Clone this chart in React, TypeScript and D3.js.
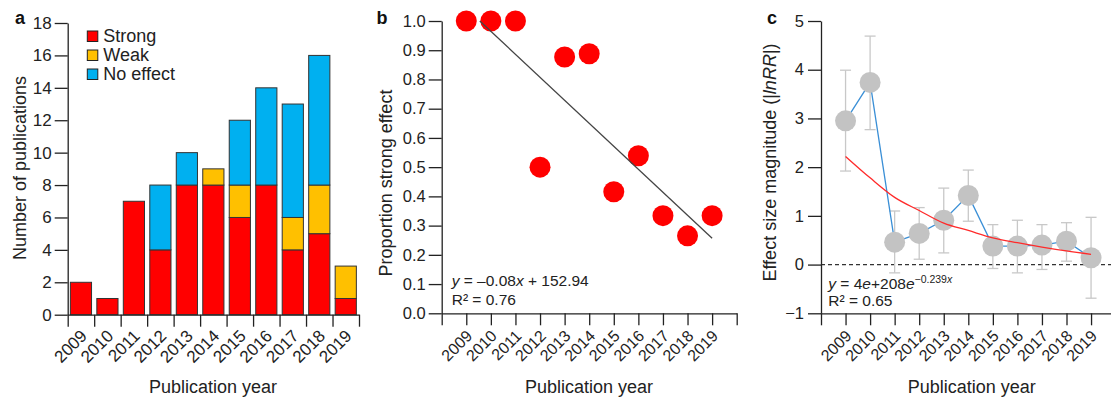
import React, { useEffect, useRef } from "react";
import * as d3 from "d3";

// publication years shared by all three panels
const years = [2009, 2010, 2011, 2012, 2013, 2014, 2015, 2016, 2017, 2018, 2019];

// panel a: counts of publications by effect category
const strong = [2, 1, 7, 4, 8, 8, 6, 8, 4, 5, 1];
const weak = [0, 0, 0, 0, 0, 1, 2, 0, 2, 3, 2];
const noEffect = [0, 0, 0, 4, 2, 0, 4, 6, 7, 8, 0];
const seriesNames = ["Strong", "Weak", "No effect"];
const seriesColors = ["#ff0000", "#ffc000", "#00b0f0"];
const countTicks = [0, 2, 4, 6, 8, 10, 12, 14, 16, 18];

// panel b: proportion strong effect + linear fit end points
const propStrong = [1.0, 1.0, 1.0, 0.5, 0.877, 0.888, 0.416, 0.539, 0.334, 0.265, 0.334];
const linFitYears = [2009.55, 2019];
const linFitValues = [1.0, 0.257];
const propTicks = [0, 0.1, 0.2, 0.3, 0.4, 0.5, 0.6, 0.7, 0.8, 0.9, 1.0];

// panel c: effect size magnitude with error bars + exponential fit
const effectMean = [2.95, 3.74, 0.46, 0.64, 0.91, 1.42, 0.38, 0.38, 0.4, 0.48, 0.14];
const effectLower = [1.92, 2.77, -0.17, 0.11, 0.24, 0.89, -0.08, -0.17, -0.1, 0.07, -0.69];
const effectUpper = [3.99, 4.69, 1.1, 1.17, 1.57, 1.94, 0.82, 0.91, 0.82, 0.86, 0.97];
const expFit = [2.22, 1.78, 1.38, 1.11, 0.85, 0.7, 0.55, 0.45, 0.36, 0.28, 0.21];
const effectTicks = [-1, 0, 1, 2, 3, 4, 5];

const FONT = '"Liberation Sans", Arial, Helvetica, sans-serif';
const INK = "#222";

function styleAxis(g: any, fontSize: number) {
  g.attr("font-family", FONT).attr("font-size", fontSize);
  g.select(".domain").attr("stroke", INK).attr("stroke-width", 1.3);
  g.selectAll(".tick line").attr("stroke", INK).attr("stroke-width", 1.3);
  g.selectAll(".tick text").attr("fill", INK);
}

function yearLabels(svg: any, xs: (d: number) => number, y: number, size: number) {
  svg
    .append("g")
    .attr("font-size", size)
    .attr("fill", INK)
    .selectAll("text")
    .data(years)
    .join("text")
    .attr("text-anchor", "end")
    .attr("transform", (d: number) => `translate(${xs(d) + 7},${y}) rotate(-45)`)
    .text((d: number) => d);
}

function titles(svg: any, label: string, lx: number, xTitle: string, xCenter: number, yTitle: any, yx: number, yCenter: number) {
  svg
    .append("text")
    .attr("x", lx)
    .attr("y", 24)
    .attr("font-weight", "bold")
    .attr("font-size", 18)
    .attr("fill", "#111")
    .text(label);
  svg
    .append("text")
    .attr("x", xCenter)
    .attr("y", 393)
    .attr("text-anchor", "middle")
    .attr("font-size", 18)
    .attr("fill", INK)
    .text(xTitle);
  const t = svg
    .append("text")
    .attr("transform", `translate(${yx},${yCenter}) rotate(-90)`)
    .attr("text-anchor", "middle")
    .attr("font-size", 18)
    .attr("fill", INK);
  yTitle(t);
}

export default function App() {
  const ref = useRef<SVGSVGElement>(null);

  useEffect(() => {
    const svg = d3.select(ref.current).attr("font-family", FONT);
    svg.selectAll("*").remove();

    // ---------- panel a ----------
    const xa = d3.scaleLinear().domain([2008.5, 2019.5]).range([67.7, 359]);
    const band = d3
      .scaleBand<number>()
      .domain(years)
      .range([67.7, 359])
      .paddingInner(0.2)
      .paddingOuter(0.1);
    const ya = d3.scaleLinear().domain([0, 18]).range([314.7, 23]);

    const rows = years.map((yr, i) => ({
      year: yr,
      Strong: strong[i],
      Weak: weak[i],
      "No effect": noEffect[i],
    }));
    const stacked = d3.stack<any>().keys(seriesNames)(rows);

    svg
      .append("g")
      .selectAll("g")
      .data(stacked)
      .join("g")
      .attr("fill", (_, i) => seriesColors[i])
      .selectAll("rect")
      .data((d) => d.filter((p) => p[1] > p[0]))
      .join("rect")
      .attr("x", (d: any) => band(d.data.year)!)
      .attr("width", band.bandwidth())
      .attr("y", (d) => ya(d[1]))
      .attr("height", (d) => ya(d[0]) - ya(d[1]))
      .attr("stroke", "#333")
      .attr("stroke-width", 1);

    const ayA = svg
      .append("g")
      .attr("transform", `translate(${xa.range()[0]},0)`)
      .call(d3.axisLeft(ya).tickValues(countTicks).tickSize(13).tickPadding(3).tickSizeOuter(0));
    styleAxis(ayA, 17);

    const axA = svg
      .append("g")
      .attr("transform", `translate(0,${ya(0)})`)
      .call(
        d3
          .axisBottom(xa)
          .tickValues(d3.range(2008.5, 2020, 1))
          .tickFormat(() => "")
          .tickSize(12)
          .tickSizeOuter(0)
      );
    styleAxis(axA, 17);
    yearLabels(svg, (d) => band(d)! + band.bandwidth() / 2, 337, 17);

    // legend
    const legend = svg
      .append("g")
      .selectAll("g")
      .data(seriesNames)
      .join("g")
      .attr("transform", (_, i) => `translate(87.3,${31 + i * 19})`);
    legend
      .append("rect")
      .attr("width", 10.5)
      .attr("height", 10.5)
      .attr("fill", (_, i) => seriesColors[i])
      .attr("stroke", "#222")
      .attr("stroke-width", 1);
    legend
      .append("text")
      .attr("x", 16)
      .attr("y", 11)
      .attr("font-size", 18)
      .attr("fill", INK)
      .text((d) => d);

    titles(svg, "a", 15, "Publication year", 213, (t: any) => t.text("Number of publications"), 26, 168);

    // ---------- panel b ----------
    const xb = d3.scaleLinear().domain([2008, 2020]).range([441.7, 736.7]);
    const yb = d3.scaleLinear().domain([0, 1]).range([313.3, 21]);

    svg
      .append("g")
      .selectAll("circle")
      .data(years)
      .join("circle")
      .attr("cx", (d) => xb(d))
      .attr("cy", (_, i) => yb(propStrong[i]))
      .attr("r", 10.5)
      .attr("fill", "#ff0000");

    svg
      .append("path")
      .datum(linFitYears.map((yr, i) => [yr, linFitValues[i]] as [number, number]))
      .attr("fill", "none")
      .attr("stroke", "#444")
      .attr("stroke-width", 1.3)
      .attr(
        "d",
        d3
          .line<[number, number]>()
          .x((d) => xb(d[0]))
          .y((d) => yb(d[1]))
      );

    const ayB = svg
      .append("g")
      .attr("transform", `translate(${xb.range()[0]},0)`)
      .call(
        d3
          .axisLeft(yb)
          .tickValues(propTicks)
          .tickFormat(d3.format(".1f"))
          .tickSize(13)
          .tickPadding(3)
          .tickSizeOuter(0)
      );
    styleAxis(ayB, 16.5);

    const axB = svg
      .append("g")
      .attr("transform", `translate(0,${yb(0)})`)
      .call(
        d3
          .axisBottom(xb)
          .tickValues(d3.range(2008, 2021))
          .tickFormat(() => "")
          .tickSize(12)
          .tickSizeOuter(0)
      );
    styleAxis(axB, 16);
    yearLabels(svg, xb, 337, 16);

    const eqB = svg.append("g").attr("font-size", 15.5).attr("fill", INK);
    const e1 = eqB.append("text").attr("x", 451.7).attr("y", 286);
    e1.append("tspan").attr("font-style", "italic").text("y");
    e1.append("tspan").text(" = \u20130.08");
    e1.append("tspan").attr("font-style", "italic").text("x");
    e1.append("tspan").text(" + 152.94");
    eqB.append("text").attr("x", 451.7).attr("y", 305).text("R\u00b2 = 0.76");

    titles(svg, "b", 376.5, "Publication year", 589, (t: any) => t.text("Proportion strong effect"), 392, 183);

    // ---------- panel c ----------
    const xc = d3.scaleLinear().domain([2008, 2020]).range([821, 1115.6]);
    const yc = d3.scaleLinear().domain([-1, 5]).range([313.3, 21]);

    svg
      .append("line")
      .attr("x1", xc(2008))
      .attr("x2", 1111)
      .attr("y1", yc(0))
      .attr("y2", yc(0))
      .attr("stroke", "#333")
      .attr("stroke-width", 1.3)
      .attr("stroke-dasharray", "4,3");

    const bars = svg
      .append("g")
      .attr("stroke", "#c8c8c8")
      .attr("stroke-width", 1.3)
      .selectAll("g")
      .data(years)
      .join("g");
    bars
      .append("line")
      .attr("x1", (d) => xc(d))
      .attr("x2", (d) => xc(d))
      .attr("y1", (_, i) => yc(effectLower[i]))
      .attr("y2", (_, i) => yc(effectUpper[i]));
    [effectLower, effectUpper].forEach((arr) => {
      bars
        .append("line")
        .attr("x1", (d) => xc(d) - 5.5)
        .attr("x2", (d) => xc(d) + 5.5)
        .attr("y1", (_, i) => yc(arr[i]))
        .attr("y2", (_, i) => yc(arr[i]));
    });

    svg
      .append("path")
      .datum(years)
      .attr("fill", "none")
      .attr("stroke", "#3a8fd6")
      .attr("stroke-width", 1.3)
      .attr(
        "d",
        d3
          .line<number>()
          .x((d) => xc(d))
          .y((_, i) => yc(effectMean[i]))
      );

    svg
      .append("g")
      .selectAll("circle")
      .data(years)
      .join("circle")
      .attr("cx", (d) => xc(d))
      .attr("cy", (_, i) => yc(effectMean[i]))
      .attr("r", 10.5)
      .attr("fill", "#c3c3c3");

    svg
      .append("path")
      .datum(years)
      .attr("fill", "none")
      .attr("stroke", "#ff2a2a")
      .attr("stroke-width", 1.3)
      .attr(
        "d",
        d3
          .line<number>()
          .curve(d3.curveMonotoneX)
          .x((d) => xc(d))
          .y((_, i) => yc(expFit[i]))
      );

    const ayC = svg
      .append("g")
      .attr("transform", `translate(${xc.range()[0]},0)`)
      .call(
        d3
          .axisLeft(yc)
          .tickValues(effectTicks)
          .tickFormat((d) => (+d < 0 ? "\u2212" + Math.abs(+d) : String(d)))
          .tickSize(13)
          .tickPadding(4)
          .tickSizeOuter(0)
      );
    styleAxis(ayC, 16.5);

    const axC = svg
      .append("g")
      .attr("transform", `translate(0,${yc(-1)})`)
      .call(
        d3
          .axisBottom(xc)
          .tickValues(d3.range(2008, 2021))
          .tickFormat(() => "")
          .tickSize(12)
          .tickSizeOuter(0)
      );
    styleAxis(axC, 16);
    yearLabels(svg, xc, 337, 16);

    const eqC = svg.append("g").attr("font-size", 15.5).attr("fill", INK);
    const c1 = eqC.append("text").attr("x", 828.3).attr("y", 289);
    c1.append("tspan").attr("font-style", "italic").text("y");
    c1.append("tspan").text(" = 4");
    c1.append("tspan").attr("font-style", "italic").text("e");
    c1.append("tspan").text("+208");
    c1.append("tspan").attr("font-style", "italic").text("e");
    c1.append("tspan").attr("font-size", 10.5).attr("dy", -6).text("\u22120.239");
    c1.append("tspan").attr("font-size", 10.5).attr("font-style", "italic").text("x");
    eqC.append("text").attr("x", 828.3).attr("y", 306).text("R\u00b2 = 0.65");

    titles(
      svg,
      "c",
      767,
      "Publication year",
      971.7,
      (t: any) => {
        t.append("tspan").text("Effect size magnitude (|");
        t.append("tspan").attr("font-style", "italic").text("lnRR");
        t.append("tspan").text("|)");
      },
      776,
      162.5
    );

    return () => {
      svg.selectAll("*").remove();
    };
  }, []);

  return (
    <svg
      ref={ref}
      width={1111}
      height={400}
      style={{ position: "absolute", left: 0, top: 0, background: "#fff" }}
    />
  );
}
